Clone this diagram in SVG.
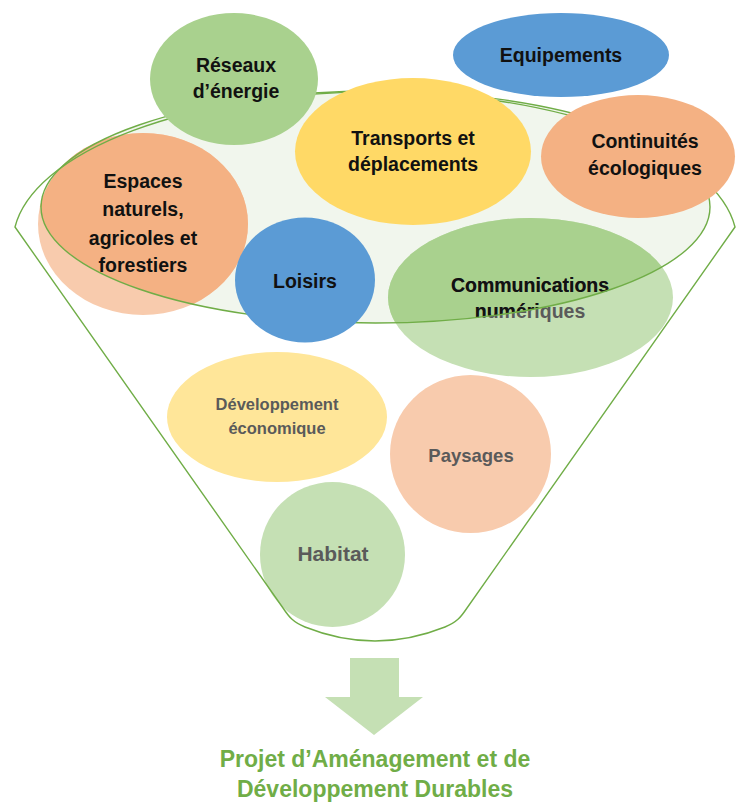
<svg xmlns="http://www.w3.org/2000/svg" width="736" height="803" viewBox="0 0 736 803">
<style>
text{font-family:"Liberation Sans",Arial,sans-serif;font-weight:bold;text-anchor:middle}
.lbl{font-size:19.5px;fill:#111}
.dim{fill:#5a5a5a}
.line{fill:none;stroke:#70ad47;stroke-width:1.4}
.g{fill:#a9d18e}.gp{fill:#c5e0b4}
.b{fill:#5b9bd5}
.y{fill:#ffd966}.yp{fill:#ffe699}
.o{fill:#f4b183}.op{fill:#f8cbad}
.title{font-size:23px;fill:#70ad47}
</style>
<defs>
<clipPath id="upper">
<ellipse cx="375.5" cy="207" rx="334.5" ry="116"/>
<rect x="0" y="0" width="736" height="207"/>
</clipPath>
</defs>
<rect width="736" height="803" fill="#fff"/>
<g id="funnel-mouth">
<ellipse cx="375.5" cy="207" rx="334.5" ry="116" fill="#f1f6ed"/>
</g>
<g id="developpement">
<ellipse class="yp" cx="277" cy="417" rx="110" ry="65"/>
<text class="dim" x="277" y="410" font-size="16.5">Développement</text>
<text class="dim" x="277" y="434" font-size="16.5">économique</text>
</g>
<g id="paysages">
<ellipse class="op" cx="470.5" cy="454" rx="80.5" ry="79"/>
<text class="dim" x="471" y="462" font-size="18.5">Paysages</text>
</g>
<g id="habitat">
<ellipse class="gp" cx="332.5" cy="554.5" rx="72.5" ry="72.5"/>
<text class="dim" x="333" y="561" font-size="21">Habitat</text>
</g>
<g id="espaces">
<ellipse class="op" cx="143" cy="224" rx="105" ry="91"/>
<ellipse class="o" cx="143" cy="224" rx="105" ry="91" clip-path="url(#upper)"/>
<text class="lbl" x="143" y="188">Espaces</text>
<text class="lbl" x="143" y="216">naturels,</text>
<text class="lbl" x="143" y="245">agricoles et</text>
<text class="lbl" x="143" y="272">forestiers</text>
</g>
<g id="communications">
<ellipse class="gp" cx="530.5" cy="297.5" rx="142.5" ry="79.5"/>
<ellipse class="g" cx="530.5" cy="297.5" rx="142.5" ry="79.5" clip-path="url(#upper)"/>
<text class="lbl dim" x="530" y="292">Communications</text>
<text class="lbl dim" x="530" y="318">numériques</text>
<g clip-path="url(#upper)">
<text class="lbl" x="530" y="292">Communications</text>
<text class="lbl" x="530" y="318">numériques</text>
</g>
</g>
<g id="funnel">
<path class="line" d="M15,227 L283,608 C289,617 293,622 305,627 Q375,655 445,627 C457,622 461,617 467,608 L735,227 A362 151 0 0 0 15,227 Z"/>
<ellipse class="line" cx="375.5" cy="207" rx="334.5" ry="116"/>
</g>
<g id="loisirs">
<ellipse class="b" cx="305" cy="280" rx="70" ry="62.5"/>
<text class="lbl" x="305" y="288">Loisirs</text>
</g>
<g id="transports">
<ellipse class="y" cx="413" cy="151.5" rx="118" ry="73.5"/>
<text class="lbl" x="413" y="145">Transports et</text>
<text class="lbl" x="413" y="171">déplacements</text>
</g>
<g id="reseaux">
<ellipse class="g" cx="234" cy="79" rx="84" ry="66"/>
<text class="lbl" x="236" y="72">Réseaux</text>
<text class="lbl" x="236" y="98">d’énergie</text>
</g>
<g id="continuites">
<ellipse class="o" cx="638" cy="156.5" rx="97" ry="61.5"/>
<text class="lbl" x="645" y="148">Continuités</text>
<text class="lbl" x="645" y="175">écologiques</text>
</g>
<g id="equipements">
<ellipse class="b" cx="561" cy="55" rx="108" ry="42"/>
<text class="lbl" x="561" y="62">Equipements</text>
</g>
<g id="connectors">
<path d="M350,658 H399 V697 H423 L374,735 L325,697 H350 Z" fill="#c5e0b4"/>
</g>
<g id="result">
<text class="title" x="375" y="767">Projet d’Aménagement et de</text>
<text class="title" x="375" y="797">Développement Durables</text>
</g>
</svg>
